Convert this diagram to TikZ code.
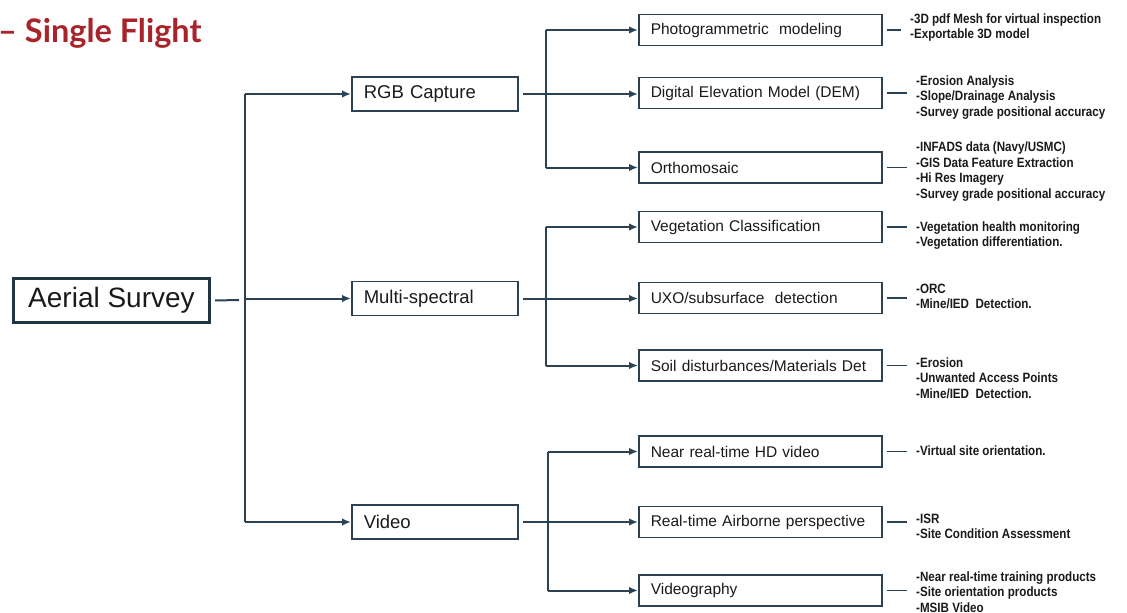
\documentclass[tikz,border=0pt]{standalone}
\usepackage{fontspec}
\setmainfont{Liberation Sans}
\newfontfamily\titlefont{Lato}
\newfontfamily\notefont{Liberation Sans}[FakeStretch=0.86]
\usetikzlibrary{arrows.meta,positioning}
\definecolor{wirecol}{HTML}{2B4254}
\definecolor{flightred}{HTML}{A8232A}
\definecolor{inkcol}{HTML}{1A1A1A}
\tikzset{
  wire/.style={draw=wirecol, line width=2pt},
  arr/.style={wire, -{Latex[length=9pt,width=7.5pt]}},
  topbox/.style={draw=wirecol!80!black, line width=3pt, minimum width=196pt,
    minimum height=44pt, text=inkcol, font=\fontsize{28}{30}\selectfont},
  midbox/.style={draw=wirecol, line width=1.5pt, anchor=west, inner xsep=12pt,
    text width=142pt, minimum height=34pt, align=left, text=inkcol,
    font=\fontsize{18.5}{20}\selectfont},
  leafbox/.style={draw=wirecol, line width=1.5pt, anchor=west, inner xsep=12pt,
    text width=219pt, minimum height=31pt, align=left, text=inkcol,
    font=\fontsize{15.5}{17}\selectfont},
  note/.style={anchor=west, inner sep=0pt, align=left, text=inkcol,
    font=\notefont\bfseries\fontsize{13.5}{15.5}\selectfont}
}
\begin{document}
\begin{tikzpicture}[x=1pt,y=-1pt]
\useasboundingbox (0,0) rectangle (1127,613);

\node[anchor=base west, inner sep=0pt, text=flightred,
  font=\titlefont\bfseries\fontsize{32.5}{35}\selectfont] (title) at (-2,42) {– Single Flight};

\node[topbox] (survey) at (111.5,300.5) {Aerial Survey};

\node[midbox] (rgb) at (351,94) {RGB Capture};
\node[midbox] (multi) at (351,298.5) {Multi-spectral};
\node[midbox] (video) at (351,522) {Video};

\node[leafbox] (photo) at (638,30) {Photogrammetric\ \ modeling};
\node[leafbox] (dem) at (638,93) {Digital\ Elevation\ Model\ (DEM)};
\node[leafbox] (ortho) at (638,167.5) {Orthomosaic};
\node[leafbox] (veg) at (638,227) {Vegetation\ Classification};
\node[leafbox] (uxo) at (638,298) {UXO/subsurface\ \ detection};
\node[leafbox] (soil) at (638,365.5) {Soil disturbances/Materials\ Det};
\node[leafbox] (hd) at (638,451.5) {Near real-time\ HD video};
\node[leafbox] (air) at (638,522) {Real-time\ Airborne\ perspective};
\node[leafbox] (vgr) at (638,590.5) {Videography};

\node[note] (nphoto) at (910,27.5) {-3D pdf Mesh for virtual inspection\\-Exportable 3D model};
\node[note] (ndem) at (916,97.5) {-Erosion Analysis\\-Slope/Drainage Analysis\\-Survey grade positional accuracy};
\node[note] (northo) at (916,171.5) {-INFADS data (Navy/USMC)\\-GIS Data Feature Extraction\\-Hi Res Imagery\\-Survey grade positional accuracy};
\node[note] (nveg) at (916,235.5) {-Vegetation health monitoring\\-Vegetation differentiation.};
\node[note] (nuxo) at (916,296.5) {-ORC\\-Mine/IED\ \ Detection.};
\node[note] (nsoil) at (916,378) {-Erosion\\-Unwanted Access Points\\-Mine/IED\ \ Detection.};
\node[note] (nhd) at (916,451) {-Virtual site orientation.};
\node[note] (nair) at (916,526.5) {-ISR\\-Site Condition Assessment};
\node[note] (nvid) at (916,592) {-Near real-time training products\\-Site orientation products\\-MSIB Video};

\coordinate (trunk) at (245,300);
\coordinate (busA) at (546,0);
\coordinate (busB) at (546,0);
\coordinate (busC) at (548,0);

\draw[wire] ([xshift=4]survey.east) -- ([xshift=-6]trunk);
\draw[wire] (trunk |- rgb) -- (trunk |- video);
\foreach \n in {rgb,multi,video}
  \draw[arr] (trunk |- \n) -- (\n);

\draw[wire] (busA |- photo) -- (busA |- ortho);
\draw[wire] (busB |- veg) -- (busB |- soil);
\draw[wire] (busC |- hd) -- (busC |- vgr);
\draw[arr] ([xshift=4]rgb.east) -- (rgb -| dem.west);
\draw[arr] ([xshift=4]multi.east) -- (multi -| uxo.west);
\draw[arr] ([xshift=4]video.east) -- (video -| air.west);
\foreach \n in {photo,ortho}
  \draw[arr] (busA |- \n) -- (\n);
\foreach \n in {veg,soil}
  \draw[arr] (busB |- \n) -- (\n);
\foreach \n in {hd,vgr}
  \draw[arr] (busC |- \n) -- (\n);

\foreach \n/\m in {photo/nphoto,dem/ndem,ortho/northo,veg/nveg,uxo/nuxo,soil/nsoil,hd/nhd,air/nair,vgr/nvid}
  \draw[wire, line width=1.6pt] ([xshift=4]\n.east) -- ([xshift=-9]\n.east -| \m.west);
\end{tikzpicture}
\end{document}
